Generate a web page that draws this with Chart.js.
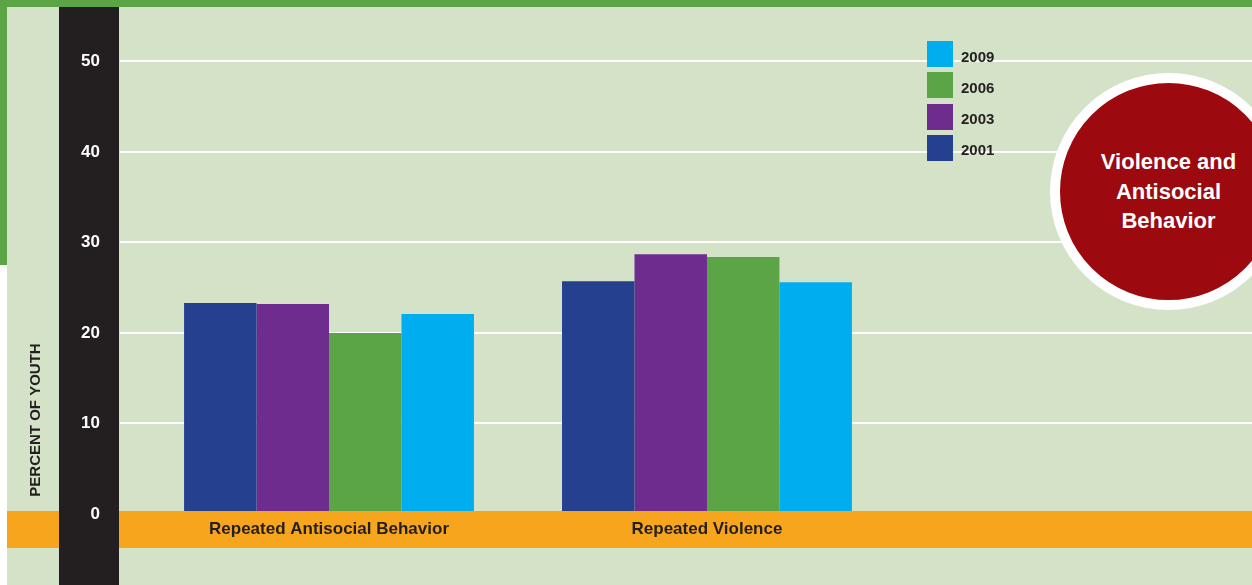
<!DOCTYPE html>
<html><head><meta charset="utf-8">
<script src="https://cdn.jsdelivr.net/npm/chart.js@4/dist/chart.umd.min.js"></script>
<style>
html,body{margin:0;padding:0;width:1252px;height:585px;overflow:hidden;background:#fff;}
#wrap{position:relative;width:1252px;height:585px;}
canvas{position:absolute;left:0;top:0;}
#legend{position:absolute;left:927px;top:41px;font:bold 15px 'Liberation Sans',Arial,sans-serif;color:#231f20;}
.item{display:flex;align-items:center;height:26px;margin-bottom:5.3px;}
.sw{width:26px;height:26px;margin-right:8px;}
.lt{position:relative;top:2px;}
#badge{position:absolute;left:1050px;top:73px;width:217px;height:217px;border:10px solid #fff;border-radius:50%;background:#9c0a10;color:#fff;font:bold 22px 'Liberation Sans',Arial,sans-serif;display:flex;align-items:center;justify-content:center;text-align:center;line-height:29.5px;box-sizing:content-box;}
</style>
</head><body>
<div id="wrap">
<canvas id="c" width="1252" height="585"></canvas>
<div id="legend"></div>
<div id="badge"><div>Violence and<br>Antisocial<br>Behavior</div></div>
</div>
<script>
const categories = ['Repeated Antisocial Behavior', 'Repeated Violence'];
const years = ['2001', '2003', '2006', '2009'];
const v2001 = [23.3, 25.7];
const v2003 = [23.2, 28.7];
const v2006 = [20.0, 28.4];
const v2009 = [22.1, 25.6];
const seriesValues = [v2001, v2003, v2006, v2009];
const seriesColors = ['#24408e', '#6e2c8f', '#5ca546', '#00aeef'];
const yTickValues = [0, 10, 20, 30, 40, 50];
const yAxisTitle = 'PERCENT OF YOUTH';

const FONT = "'Liberation Sans', Arial, sans-serif";
const DARK = '#231f20';
const ORANGE = '#f7a51c';

const decor = {
  id: 'decor',
  beforeDraw(chart) {
    const ctx = chart.ctx, W = chart.width, H = chart.height;
    ctx.save();
    ctx.fillStyle = '#d4e2c8'; ctx.fillRect(0, 0, W, H);
    ctx.fillStyle = '#ffffff'; ctx.fillRect(0, 265, 7, H - 265);
    ctx.fillStyle = '#5ca546'; ctx.fillRect(0, 0, W, 7); ctx.fillRect(0, 0, 7, 265);
    ctx.fillStyle = ORANGE; ctx.fillRect(7, 511, W - 7, 37);
    ctx.fillStyle = DARK; ctx.fillRect(59, 7, 60, H - 7);
    ctx.restore();
  },
  afterDatasetsDraw(chart) {
    const ctx = chart.ctx, a = chart.chartArea;
    ctx.save();
    ctx.fillStyle = ORANGE; ctx.fillRect(a.left, 511, a.right - a.left, 37);
    ctx.restore();
  },
  afterDraw(chart) {
    const ctx = chart.ctx;
    ctx.save();
    ctx.translate(36, 420);
    ctx.rotate(-Math.PI / 2);
    ctx.font = 'bold 15px ' + FONT;
    ctx.fillStyle = DARK;
    ctx.textAlign = 'center';
    ctx.textBaseline = 'middle';
    ctx.fillText(yAxisTitle, 0, 0);
    ctx.restore();
  }
};

const datasets = years.map((yr, i) => ({
  label: yr,
  data: categories.map((c, j) => ({ x: j, y: seriesValues[i][j] })),
  backgroundColor: seriesColors[i],
  borderWidth: 0,
  barPercentage: 1.0,
  categoryPercentage: 0.767
}));

const chart = new Chart(document.getElementById('c'), {
  type: 'bar',
  data: { datasets },
  options: {
    responsive: false,
    animation: false,
    devicePixelRatio: 1,
    layout: { padding: { top: 7, left: 0, right: 0, bottom: 0 } },
    plugins: { legend: { display: false }, tooltip: { enabled: false } },
    scales: {
      x: {
        type: 'linear',
        min: -0.553,
        max: 2.442,
        offset: false,
        grid: { display: false, drawTicks: false },
        border: { display: false },
        afterFit(s) { s.height = 71; s.paddingLeft = 0; s.paddingRight = 0; s.paddingTop = 0; s.paddingBottom = 0; },
        afterBuildTicks(s) { s.ticks = categories.map((c, i) => ({ value: i })); },
        ticks: {
          z: 1,
          padding: 5,
          autoSkip: false,
          maxRotation: 0,
          color: DARK,
          font: { family: FONT, size: 17, weight: 'bold' },
          callback: (v) => categories[v] !== undefined ? categories[v] : ''
        }
      },
      y: {
        min: 0,
        max: 56,
        afterFit(s) { s.width = 120; s.paddingTop = 0; s.paddingBottom = 0; s.paddingLeft = 0; s.paddingRight = 0; },
        afterBuildTicks(s) { s.ticks = yTickValues.map(v => ({ value: v })); },
        grid: { color: '#ffffff', lineWidth: 2, drawTicks: false },
        border: { display: false },
        ticks: {
          z: 1,
          padding: 20,
          color: '#ffffff',
          font: { family: FONT, size: 17, weight: 'bold' }
        }
      }
    }
  },
  plugins: [decor]
});

// HTML legend, generated from the chart's datasets (reversed order)
const leg = document.getElementById('legend');
chart.data.datasets.slice().reverse().forEach(ds => {
  const it = document.createElement('div'); it.className = 'item';
  const sw = document.createElement('div'); sw.className = 'sw'; sw.style.background = ds.backgroundColor;
  const t = document.createElement('span'); t.className = 'lt'; t.textContent = ds.label;
  it.appendChild(sw); it.appendChild(t); leg.appendChild(it);
});
</script>
</body></html>
